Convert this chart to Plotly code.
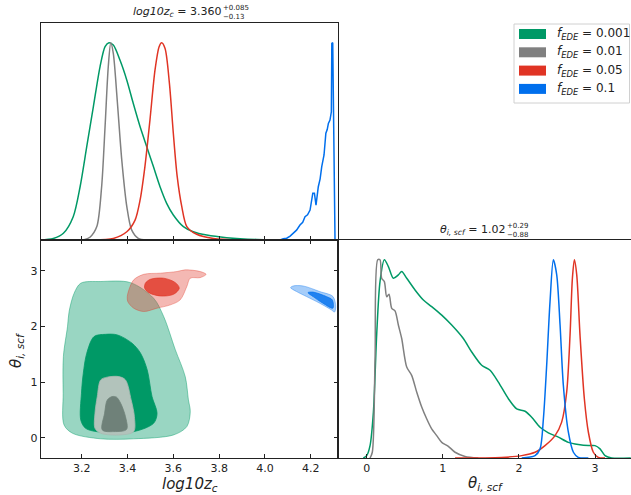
import plotly.graph_objects as go

# ---------------- data ----------------
labels = ["0.001", "0.01", "0.05", "0.1"]
colors = ["#009966", "#808080", "#E03424", "#006FED"]

# 1D marginal of log10 z_c (normalised to peak = 1)
zc_green_x = [3.018, 3.076, 3.120, 3.163, 3.193, 3.222, 3.251, 3.280, 3.302, 3.319, 3.338, 3.367, 3.397,
              3.425, 3.455, 3.484, 3.513, 3.542, 3.571, 3.600, 3.644, 3.687, 3.746, 3.833, 3.964, 4.183, 4.314]
zc_green_y = [0.0, 0.008, 0.034, 0.118, 0.27, 0.473, 0.676, 0.878, 0.98, 1.0, 0.988, 0.912, 0.81,
              0.693, 0.574, 0.473, 0.372, 0.27, 0.186, 0.127, 0.068, 0.042, 0.025, 0.012, 0.003, 0.0, 0.0]
zc_gray_x = [3.207, 3.236, 3.266, 3.287, 3.302, 3.316, 3.327, 3.338, 3.355, 3.375, 3.397, 3.418, 3.447, 3.484]
zc_gray_y = [0.0, 0.014, 0.068, 0.27, 0.574, 0.878, 1.0, 0.946, 0.71, 0.405, 0.169, 0.051, 0.008, 0.0]
zc_red_x = [3.251, 3.338, 3.397, 3.433, 3.455, 3.476, 3.498, 3.520, 3.538, 3.549, 3.564, 3.583, 3.600,
            3.617, 3.637, 3.659, 3.702, 3.775, 3.891]
zc_red_y = [0.0, 0.008, 0.042, 0.101, 0.203, 0.372, 0.608, 0.861, 0.98, 1.0, 0.971, 0.794, 0.541,
            0.321, 0.169, 0.068, 0.029, 0.008, 0.0]
zc_blue_x = [4.040, 4.066, 4.080, 4.095, 4.110, 4.124, 4.138, 4.153, 4.165, 4.175, 4.186, 4.197, 4.204,
             4.209, 4.216, 4.223, 4.233, 4.241, 4.248, 4.258, 4.266, 4.272, 4.277, 4.284, 4.290, 4.292,
             4.296, 4.300, 4.303, 4.306]
zc_blue_y = [0.0, 0.0, 0.006, 0.009, 0.02, 0.034, 0.05, 0.076, 0.09, 0.118, 0.128, 0.152, 0.2,
             0.237, 0.237, 0.177, 0.27, 0.31, 0.372, 0.431, 0.541, 0.56, 0.591, 0.608, 0.65, 0.997,
             1.0, 0.6, 0.009, 0.0]

# 1D marginal of theta_i,scf
th_green_x = [-0.044, 0.0, 0.044, 0.088, 0.131, 0.175, 0.232, 0.285, 0.350, 0.416, 0.460, 0.526, 0.635,
              0.745, 0.854, 0.986, 1.117, 1.270, 1.380, 1.511, 1.621, 1.730, 1.862, 1.971, 2.081, 2.168,
              2.278, 2.387, 2.519, 2.650, 2.781, 2.913, 3.0, 3.066, 3.132, 3.219, 3.47]
th_green_y = [0.0, 0.012, 0.0625, 0.231, 0.62, 0.89, 1.0, 0.966, 0.907, 0.924, 0.941, 0.907, 0.848,
              0.797, 0.764, 0.721, 0.671, 0.603, 0.535, 0.468, 0.443, 0.383, 0.299, 0.248, 0.236, 0.206,
              0.155, 0.127, 0.105, 0.079, 0.068, 0.0625, 0.0625, 0.046, 0.012, 0.0, 0.0]
th_gray_x = [0.044, 0.074, 0.110, 0.145, 0.175, 0.197, 0.232, 0.263, 0.293, 0.329, 0.372, 0.416, 0.460,
             0.526, 0.591, 0.657, 0.723, 0.788, 0.854, 0.920, 0.986, 1.073, 1.161, 1.292, 1.467]
th_gray_y = [0.0, 0.029, 0.502, 1.0, 1.0, 0.907, 0.89, 0.814, 0.826, 0.755, 0.742, 0.671, 0.603,
             0.459, 0.417, 0.333, 0.257, 0.198, 0.147, 0.113, 0.079, 0.059, 0.029, 0.008, 0.0]
th_red_x = [1.161, 1.774, 2.037, 2.212, 2.343, 2.475, 2.562, 2.628, 2.672, 2.703, 2.729, 2.760, 2.803,
            2.860, 2.913, 2.978, 3.044, 3.132]
th_red_y = [0.0, 0.003, 0.012, 0.029, 0.0625, 0.113, 0.181, 0.333, 0.62, 0.907, 1.0, 0.924, 0.62,
            0.299, 0.13, 0.029, 0.003, 0.0]
th_blue_x = [2.037, 2.212, 2.278, 2.322, 2.365, 2.409, 2.453, 2.497, 2.541, 2.584, 2.650, 2.716, 2.781, 2.913]
th_blue_y = [0.0, 0.012, 0.046, 0.198, 0.468, 0.789, 1.0, 0.924, 0.671, 0.367, 0.13, 0.029, 0.003, 0.0]

# 2D contours (outer = 95%, inner = 68%) in (log10 z_c, theta_i,scf)
c_green_out_x = [3.196, 3.283, 3.413, 3.514, 3.558, 3.609, 3.652, 3.666, 3.674, 3.659, 3.601, 3.427,
                 3.283, 3.160, 3.123, 3.119, 3.120, 3.138, 3.145, 3.167]
c_green_out_y = [2.78, 2.81, 2.79, 2.51, 2.18, 1.58, 1.10, 0.68, 0.47, 0.20, 0.05, -0.02,
                 -0.02, 0.08, 0.23, 0.80, 1.46, 2.00, 2.27, 2.60]
c_green_in_x = [3.304, 3.254, 3.222, 3.207, 3.199, 3.196, 3.217, 3.283, 3.427, 3.514, 3.529, 3.507,
                3.486, 3.457, 3.420, 3.355]
c_green_in_y = [1.86, 1.82, 1.52, 1.16, 0.80, 0.32, 0.17, 0.10, 0.11, 0.26, 0.44, 0.74,
                1.22, 1.52, 1.70, 1.85]
c_gray_out_x = [3.312, 3.283, 3.268, 3.258, 3.258, 3.283, 3.370, 3.427, 3.430, 3.416, 3.391, 3.362]
c_gray_out_y = [1.09, 1.04, 0.74, 0.44, 0.17, 0.08, 0.05, 0.11, 0.38, 0.68, 1.04, 1.10]
c_gray_in_x = [3.333, 3.312, 3.300, 3.290, 3.340, 3.396, 3.391, 3.370, 3.352]
c_gray_in_y = [0.74, 0.68, 0.44, 0.14, 0.11, 0.15, 0.38, 0.62, 0.73]
c_red_out_x = [3.399, 3.406, 3.427, 3.471, 3.543, 3.616, 3.652, 3.717, 3.743, 3.717, 3.674, 3.659,
               3.630, 3.587, 3.529, 3.471, 3.427, 3.401]
c_red_out_y = [2.54, 2.66, 2.84, 2.94, 2.96, 2.99, 3.02, 2.99, 2.94, 2.88, 2.87, 2.72,
               2.48, 2.39, 2.33, 2.27, 2.33, 2.45]
c_red_in_x = [3.478, 3.500, 3.558, 3.609, 3.626, 3.601, 3.543, 3.493, 3.475]
c_red_in_y = [2.78, 2.85, 2.87, 2.79, 2.69, 2.58, 2.55, 2.61, 2.69]
c_blue_out_x = [4.112, 4.123, 4.167, 4.239, 4.297, 4.309, 4.304, 4.290, 4.239, 4.181, 4.138]
c_blue_out_y = [2.70, 2.73, 2.73, 2.63, 2.54, 2.36, 2.26, 2.30, 2.42, 2.54, 2.63]
c_blue_in_x = [4.188, 4.210, 4.268, 4.294, 4.297, 4.253, 4.210]
c_blue_in_y = [2.61, 2.62, 2.54, 2.48, 2.33, 2.42, 2.54]

zc_ticks = [3.2, 3.4, 3.6, 3.8, 4.0, 4.2]
th_ticks = [0, 1, 2, 3]
zc_range = [3.021, 4.319]
th_range = [-0.365, 3.557]
th_range_right = [-0.377, 3.473]

# ---------------- figure ----------------
W, H = 631, 495
FONT = "DejaVu Sans"
fig = go.Figure()

def line(x, y, color, xa, ya, shape="spline", width=1.5):
    fig.add_trace(go.Scatter(x=x, y=y, mode="lines", xaxis=xa, yaxis=ya,
                             line=dict(color=color, width=width, shape=shape, smoothing=0.8),
                             showlegend=False, hoverinfo="skip"))

def poly(x, y, fill, edge, width=0.8):
    fig.add_trace(go.Scatter(x=x + x[:1], y=y + y[:1], mode="lines", fill="toself", fillcolor=fill,
                             xaxis="x2", yaxis="y2",
                             line=dict(color=edge, width=width, shape="spline", smoothing=0.9),
                             showlegend=False, hoverinfo="skip"))

# 2D contours
poly(c_green_out_x, c_green_out_y, "rgba(0,153,102,0.40)", "rgba(0,153,102,0.55)")
poly(c_green_in_x, c_green_in_y, "#009966", "#009966")
poly(c_gray_out_x, c_gray_out_y, "#b2c3bb", "#a9bab2")
poly(c_gray_in_x, c_gray_in_y, "#6f8179", "#6f8179")
poly(c_red_out_x, c_red_out_y, "rgba(224,52,36,0.35)", "rgba(224,52,36,0.45)")
poly(c_red_in_x, c_red_in_y, "rgba(224,52,36,0.80)", "rgba(224,52,36,0.8)")
poly(c_blue_out_x, c_blue_out_y, "rgba(0,111,237,0.35)", "rgba(0,111,237,0.45)")
poly(c_blue_in_x, c_blue_in_y, "rgba(0,111,237,0.80)", "rgba(0,111,237,0.8)")

# 1D marginals
line(zc_green_x, zc_green_y, colors[0], "x", "y")
line(zc_gray_x, zc_gray_y, colors[1], "x", "y")
line(zc_red_x, zc_red_y, colors[2], "x", "y")
line(zc_blue_x, zc_blue_y, colors[3], "x", "y", shape="linear")

line(th_green_x, th_green_y, colors[0], "x3", "y3")
line(th_gray_x, th_gray_y, colors[1], "x3", "y3")
line(th_red_x, th_red_y, colors[2], "x3", "y3")
line(th_blue_x, th_blue_y, colors[3], "x3", "y3")

# layout geometry (pixels -> paper)
L, M, R = 40.7, 338.0, 631.0
T, MID, B = 23.0, 240.0, 458.0
px = lambda v: v / W
py = lambda v: 1 - v / H

ax_common = dict(showgrid=False, zeroline=False, showline=True, linecolor="#222", linewidth=1,
                 ticks="inside", ticklen=4, tickwidth=1, tickcolor="#222",
                 tickfont=dict(family=FONT, size=11, color="#222"))
ax_noticks = {k: v for k, v in ax_common.items() if k != "ticks"}

fig.update_layout(
    width=W, height=H, margin=dict(l=0, r=0, t=0, b=0),
    plot_bgcolor="white", paper_bgcolor="white", showlegend=False,
    xaxis=dict(domain=[px(L), px(M)], range=zc_range, tickvals=zc_ticks, showticklabels=False,
               anchor="y", mirror=True, **ax_common),
    yaxis=dict(domain=[py(MID), py(T)], range=[0, 1.1], showticklabels=False, ticks="",
               anchor="x", mirror=True, **ax_noticks),
    xaxis2=dict(domain=[px(L), px(M)], range=zc_range, tickvals=zc_ticks,
                ticktext=[f"{v:.1f}" for v in zc_ticks],
                anchor="y2", mirror="allticks", **ax_common),
    yaxis2=dict(domain=[py(B), py(MID)], range=th_range, tickvals=th_ticks, anchor="x2",
                mirror="allticks", **ax_common),
    xaxis3=dict(domain=[px(M), px(R)], range=th_range_right, tickvals=th_ticks, anchor="y3",
                mirror=True, **ax_common),
    yaxis3=dict(domain=[py(B), py(MID)], range=[0, 1.1], showticklabels=False, ticks="",
                anchor="x3", mirror=True, **ax_noticks),
)

ann = []
def text(x, y, s, size, xanchor="center", yanchor="middle", angle=0, pad=1):
    ann.append(dict(x=px(x), y=py(y), xref="paper", yref="paper", text=s, showarrow=False,
                    xanchor=xanchor, yanchor=yanchor, textangle=angle, borderpad=pad,
                    font=dict(family=FONT, size=size, color="#222")))

# panel titles (value with stacked upper / lower errors)
text(223, 12, "<i>log10z<sub>c</sub></i> = 3.360", 11, xanchor="right")
text(222, 8, "+0.085", 7, xanchor="left", pad=0)
text(222, 17, "−0.13", 7, xanchor="left", pad=0)
text(507, 230, "<i>θ<sub>i, scf</sub></i> = 1.02", 11, xanchor="right")
text(506, 226.5, "+0.29", 7, xanchor="left", pad=0)
text(506, 235.3, "−0.88", 7, xanchor="left", pad=0)

# axis labels
text(190, 484, "<i>log10z<sub>c</sub></i>", 15)
text(486, 483, "<i>θ<sub>i, scf</sub></i>", 15)
text(16, 350, "<i>θ<sub>i, scf</sub></i>", 15, angle=-90)

# legend
shapes = [dict(type="rect", xref="paper", yref="paper", x0=px(514), x1=px(629.5), y0=py(103), y1=py(24),
               line=dict(color="#d0d0d0", width=1), fillcolor="rgba(255,255,255,0.8)")]
for i, (lab, col) in enumerate(zip(labels, colors)):
    yc = 34 + i * 18.3
    shapes.append(dict(type="rect", xref="paper", yref="paper", x0=px(519), x1=px(546),
                       y0=py(yc + 5), y1=py(yc - 5), line=dict(width=0), fillcolor=col))
    text(555, yc, f"<i>f<sub>EDE</sub></i> = {lab}", 12, xanchor="left")

fig.update_layout(annotations=ann, shapes=shapes)
fig.write_html("out.html")
